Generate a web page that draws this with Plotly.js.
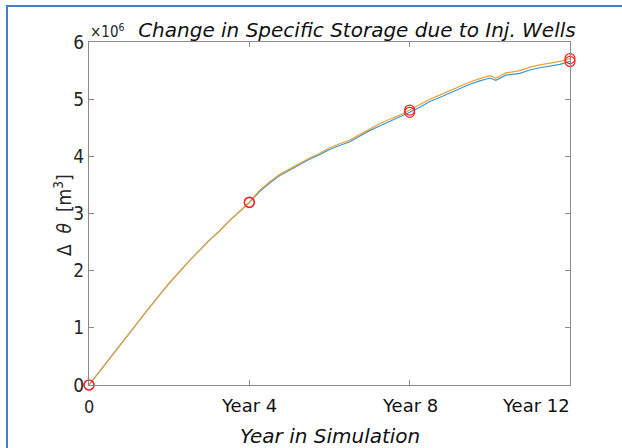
<!DOCTYPE html>
<html>
<head>
<meta charset="utf-8">
<script src="https://cdn.plot.ly/plotly-3.0.1.min.js"></script>
<style>
  html, body { margin: 0; padding: 0; background: #fff; }
  #wrap { position: relative; width: 622px; height: 448px; overflow: hidden; }
  #chart { width: 622px; height: 448px; }
  #frame { position: absolute; left: 6px; top: 5px; width: 630px; height: 460px;
           border-top: 2px solid #4a7cc9; border-left: 2px solid #4a7cc9; pointer-events: none; }
</style>
</head>
<body>
<div id="wrap"><div id="chart"></div><div id="frame"></div></div>
<script>
// Simulation year
const years = [0,0.5,1,1.5,2,2.5,3,3.25,3.5,3.75,4,4.25,4.5,4.75,5,5.25,5.5,5.75,6,6.25,6.5,6.75,7,7.25,7.5,7.75,8,8.25,8.5,8.75,9,9.25,9.5,9.75,10,10.15,10.4,10.75,11,11.25,11.5,11.75,12];
// Change in storage, units of 10^6 m^3
const seriesOrange = [0,0.46,0.90,1.35,1.78,2.17,2.53,2.69,2.87,3.03,3.20,3.40,3.55,3.68,3.78,3.88,3.97,4.05,4.15,4.22,4.28,4.38,4.48,4.57,4.65,4.72,4.81,4.90,5.00,5.07,5.15,5.22,5.30,5.36,5.41,5.37,5.46,5.50,5.56,5.60,5.63,5.66,5.71];
const seriesBlue   = [0,0.46,0.90,1.35,1.78,2.17,2.53,2.69,2.87,3.03,3.19,3.38,3.53,3.66,3.76,3.86,3.95,4.03,4.12,4.19,4.25,4.35,4.45,4.53,4.61,4.68,4.77,4.86,4.96,5.03,5.11,5.18,5.26,5.32,5.37,5.33,5.42,5.45,5.51,5.55,5.58,5.61,5.66];
// Marked years (red circles)
const markYears = [0,4,8,12];
// Tick labels
const xTickVals = [0,4,8,12];
const xTickText = ['0','Year 4','Year 8','Year 12'];
const yTickVals = [0,1,2,3,4,5,6];
const yTickText = ['0','1','2','3','4','5','6'];

const narrow = '"Liberation Sans Narrow", "DejaVu Sans Condensed", "Arial Narrow", sans-serif';
const verdana = '"DejaVu Sans", Verdana, sans-serif';
const txt = '#262626';
const axisCol = '#8a8a8a';

function pick(arr) {
  return markYears.map(y => arr[years.indexOf(y)]);
}

const traces = [
  { x: years, y: seriesBlue, mode: 'lines', line: { color: '#3d95d6', width: 1.2 }, hoverinfo: 'skip' },
  { x: years, y: seriesOrange, mode: 'lines', line: { color: '#eda232', width: 1.2 }, hoverinfo: 'skip' },
  { x: markYears, y: pick(seriesBlue), mode: 'markers',
    marker: { symbol: 'circle-open', color: '#ff2020', size: 10, line: { width: 1.2 } }, hoverinfo: 'skip', cliponaxis: false },
  { x: markYears, y: pick(seriesOrange), mode: 'markers',
    marker: { symbol: 'circle-open', color: '#ff2020', size: 10, line: { width: 1.2 } }, hoverinfo: 'skip', cliponaxis: false }
];

const annotations = xTickVals.map((v, i) => ({
  x: v, y: 0, xref: 'x', yref: 'paper',
  text: xTickText[i],
  showarrow: false,
  xanchor: i === xTickVals.length - 1 ? 'right' : 'center',
  xshift: i === xTickVals.length - 1 ? 2 : 0,
  yanchor: 'top', yshift: i === 0 ? -9 : -8,
  font: i === 0 ? { family: narrow, size: 18, color: txt } : { family: verdana, size: 18, color: '#111' }
}));

annotations.push({
  x: 0, y: 1, xref: 'paper', yref: 'paper', xanchor: 'left', yanchor: 'bottom',
  xshift: -1, yshift: -1,
  text: '×10<sup>6</sup>', showarrow: false,
  font: { family: narrow, size: 15, color: txt }
});
annotations.push({
  x: -0.054, y: 0.493, xref: 'paper', yref: 'paper', xanchor: 'center', yanchor: 'middle',
  text: 'Δ  <i>θ</i>  [m<sup>3</sup>]', textangle: -90, showarrow: false,
  font: { family: narrow, size: 19, color: txt }
});
annotations.push({
  x: 0.5, y: 0, xref: 'paper', yref: 'paper', xanchor: 'center', yanchor: 'top',
  yshift: -37,
  text: '<i>Year in Simulation</i>', showarrow: false,
  font: { family: verdana, size: 20, color: '#111' }
});

const layout = {
  width: 622, height: 448,
  margin: { l: 89, r: 52, t: 42, b: 63 },
  paper_bgcolor: '#fff', plot_bgcolor: '#fff',
  showlegend: false,
  title: {
    text: '<i>Change in Specific Storage due to Inj. Wells</i>',
    font: { family: verdana, size: 20, color: '#111' },
    x: 0.557, xref: 'paper', xanchor: 'center',
    y: 0.933, yref: 'container', yanchor: 'middle'
  },
  xaxis: {
    range: [0, 12], tickvals: xTickVals, showticklabels: false,
    ticks: 'inside', ticklen: 5, tickcolor: axisCol, tickwidth: 1,
    showline: true, linecolor: axisCol, linewidth: 1.2, mirror: 'ticks',
    showgrid: false, zeroline: false, fixedrange: true
  },
  yaxis: {
    range: [0, 6], tickvals: yTickVals, ticktext: yTickText,
    ticks: 'inside', ticklen: 5, tickcolor: axisCol, tickwidth: 1,
    showline: true, linecolor: axisCol, linewidth: 1.2, mirror: 'ticks',
    showgrid: false, zeroline: false, fixedrange: true,
    tickfont: { family: narrow, size: 19, color: txt }
  },
  annotations: annotations
};

Plotly.newPlot('chart', traces, layout, { staticPlot: true, displayModeBar: false });
</script>
</body>
</html>
